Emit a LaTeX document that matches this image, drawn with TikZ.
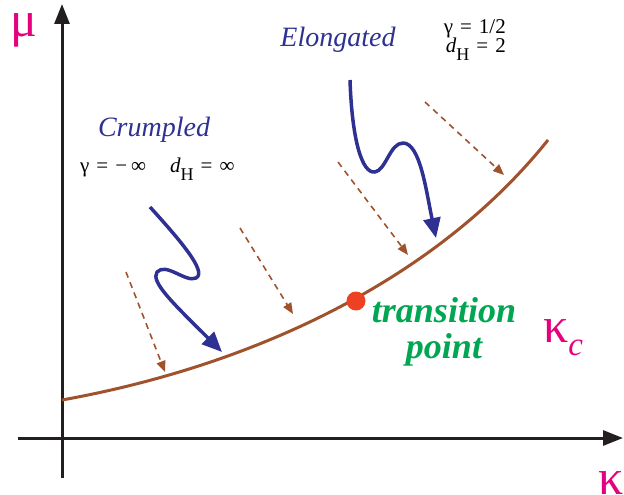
\documentclass[tikz,border=0pt]{standalone}
\usepackage{fontspec}
\setmainfont{LiberationSerif}[Extension=.ttf, UprightFont=*-Regular, BoldFont=*-Bold, ItalicFont=*-Italic, BoldItalicFont=*-BoldItalic]
\usetikzlibrary{arrows.meta}
\definecolor{axisblack}{HTML}{231F20}
\definecolor{mag}{HTML}{E6007E}
\definecolor{navy}{HTML}{2E3192}
\definecolor{rust}{HTML}{A0522D}
\definecolor{grn}{HTML}{00A651}
\definecolor{dotred}{HTML}{EE4023}
\tikzset{
  axis/.style={line width=3pt, axisblack, -{Triangle[length=20pt,width=15pt]}},
  flow/.style={line width=3.5pt, navy, line join=round, -{Triangle[length=20pt,width=17pt]}},
  guide/.style={line width=1.6pt, rust, dash pattern=on 6pt off 5pt, -{Triangle[length=11pt,width=9pt]}},
  lbl/.style={inner sep=0pt},
  small/.style={inner sep=0pt, anchor=base west, font=\fontsize{21}{21}\selectfont},
}
\newcommand{\subH}{\raisebox{-8pt}{\fontsize{18}{18}\selectfont H}}
\begin{document}
\begin{tikzpicture}[x=1pt,y=-1pt]
\useasboundingbox (0,0) rectangle (624,495);
% axes
\coordinate (ybot) at (62,478);
\coordinate (ytop) at (62,4);
\coordinate (xl) at (18,438);
\coordinate (xr) at (623,438);
\draw[axis] (ybot) -- (ytop);
\draw[axis] (xl) -- (xr);
\node[lbl, mag, anchor=base west, font=\fontsize{50}{50}\selectfont] (mu) at (10,37) {μ};
\node[lbl, mag, anchor=base west, font=\fontsize{50}{50}\selectfont] (kappa) at (598,494) {κ};
% critical curve
\coordinate (c0) at (62,400);
\coordinate (c1) at (548,140);
\draw[line width=3pt, rust] (c0) .. controls (262,364) and (440,275) .. (c1);
% dashed flow arrows
\coordinate (d1s) at (126,272); \coordinate (d1e) at (165,372);
\coordinate (d2s) at (240,228); \coordinate (d2e) at (293,314);
\coordinate (d3s) at (338,162); \coordinate (d3e) at (408,255);
\coordinate (d4s) at (425,102); \coordinate (d4e) at (504,175);
\draw[guide] (d1s) -- (d1e);
\draw[guide] (d2s) -- (d2e);
\draw[guide] (d3s) -- (d3e);
\draw[guide] (d4s) -- (d4e);
% blue wiggly arrows
\coordinate (b1s) at (150,207);
\coordinate (b1e) at (222,352);
\draw[flow] (b1s) .. controls (178,238) and (208,272) .. (196,278)
  .. controls (186,283) and (166,262) .. (157,272)
  .. controls (150,282) and (175,305) .. (b1e);
\coordinate (b2s) at (350,80);
\coordinate (b2e) at (436,238);
\draw[flow] (b2s) .. controls (352,140) and (362,174) .. (375,172)
  .. controls (386,170) and (390,143) .. (403,143)
  .. controls (420,143) and (426,190) .. (b2e);
% transition point
\node[circle, fill=dotred, minimum size=19pt, inner sep=0pt] (tp) at (356,301) {};
\node[lbl, grn, align=center, font=\fontsize{36}{36}\selectfont\bfseries\itshape] (tptext) at (444,332) {transition\\point};
\node[lbl, mag, anchor=base west, font=\fontsize{50}{50}\selectfont] (kc) at (543,342) {κ\raisebox{-13pt}{\fontsize{33}{33}\selectfont\itshape c}};
% regime labels
\node[lbl, navy, font=\fontsize{28}{28}\selectfont\itshape] (crump) at (154,130) {Crumpled};
\node[small] (crumpval) at (80,172) {γ\hspace{7pt}=\hspace{7pt}−\hspace{4pt}∞\hspace{24pt}\textit{d}\subH\hspace{7pt}=\hspace{7pt}∞};
\node[lbl, navy, font=\fontsize{28}{28}\selectfont\itshape] (elong) at (338,40) {Elongated};
\node[small, anchor=base east] (elongg) at (506,34) {γ\hspace{7pt}=\hspace{7pt}1/2};
\node[small, anchor=base east] (elongd) at (506,53) {\textit{d}\subH\hspace{7pt}=\hspace{7pt}2};
\end{tikzpicture}
\end{document}
